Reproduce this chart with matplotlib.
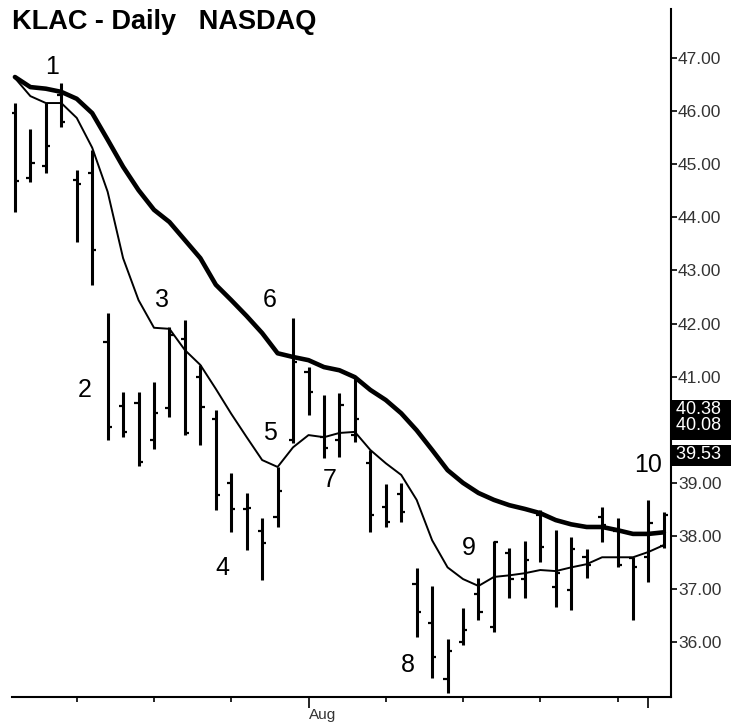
import matplotlib
matplotlib.use("Agg")
import matplotlib.pyplot as plt
from matplotlib.patches import Rectangle
import numpy as np

# ---- data ----
opens = [45.96, 44.74, 44.97, 46.30, 44.70, 44.83, 41.65, 40.45, 40.50, 39.81,
         40.41, 41.70, 41.00, 40.20, 39.00, 38.50, 38.10, 38.36, 39.81, 41.09,
         39.86, 39.81, 39.90, 39.37, 38.54, 38.80, 37.10, 36.36, 35.30, 36.00,
         36.90, 36.28, 37.68, 37.20, 38.40, 37.04, 36.98, 37.60, 38.36, 38.10,
         37.58, 37.60, 37.82]
highs = [46.15, 45.66, 46.15, 46.53, 44.89, 45.27, 42.20, 40.71, 40.71, 40.90,
         41.93, 42.07, 41.22, 40.37, 39.18, 38.81, 38.34, 39.30, 42.10, 41.18,
         40.65, 40.69, 40.97, 39.62, 38.98, 39.00, 37.40, 37.06, 36.06, 36.64,
         37.21, 37.90, 37.77, 37.90, 38.49, 38.11, 37.98, 37.75, 38.54, 38.34,
         37.60, 38.68, 38.45]
lows = [44.10, 44.66, 44.83, 45.70, 43.53, 42.73, 39.81, 39.86, 39.32, 39.64,
        40.24, 39.90, 39.71, 38.49, 38.07, 37.73, 37.17, 38.17, 39.75, 40.28,
        39.47, 39.49, 39.77, 38.07, 38.17, 38.26, 36.10, 35.32, 35.04, 35.95,
        36.42, 36.19, 36.83, 36.83, 37.51, 36.66, 36.60, 37.21, 37.88, 37.41,
        36.42, 37.13, 37.77]
closes = [44.68, 45.02, 45.34, 45.79, 44.63, 43.38, 40.05, 39.96, 39.39, 40.31,
          41.78, 39.94, 40.43, 38.77, 38.51, 38.53, 37.87, 38.85, 41.27, 40.71,
          39.66, 40.47, 40.20, 38.39, 38.26, 38.45, 36.57, 35.72, 35.83, 36.23,
          36.57, 37.88, 37.20, 37.55, 37.79, 37.30, 37.75, 37.45, 38.21, 37.45,
          37.41, 38.24, 38.40]
ma_fast = [46.62, 46.28, 46.15, 46.15, 45.87, 45.31, 44.48, 43.23, 42.44, 41.92,
           41.90, 41.50, 41.22, 40.77, 40.30, 39.86, 39.43, 39.30, 39.67, 39.90,
           39.86, 39.94, 39.96, 39.62, 39.37, 39.15, 38.68, 37.92, 37.41, 37.19,
           37.06, 37.23, 37.26, 37.30, 37.36, 37.34, 37.41, 37.47, 37.60, 37.60,
           37.60, 37.70, 37.83]
ma_slow = [46.64, 46.45, 46.42, 46.36, 46.23, 45.96, 45.46, 44.95, 44.51, 44.14,
           43.91, 43.57, 43.23, 42.73, 42.44, 42.14, 41.82, 41.44, 41.37, 41.31,
           41.18, 41.12, 40.99, 40.75, 40.56, 40.31, 39.99, 39.62, 39.24, 39.00,
           38.81, 38.68, 38.58, 38.51, 38.43, 38.30, 38.22, 38.17, 38.17, 38.11,
           38.04, 38.04, 38.07]

wave_labels = ["1", "2", "3", "4", "5", "6", "7", "8", "9", "10"]
price_tags = [40.38, 40.08, 39.53]
ytick_vals = [36, 37, 38, 39, 41, 42, 43, 44, 45, 46, 47]
week_ticks = [4, 9, 14, 24, 29, 34, 39]
month_ticks = [19, 41]
month_names = ["Aug", ""]

# label positions (bar index, price)
wave_pos = [(2.4, 46.83), (4.5, 40.75), (9.5, 42.44), (13.4, 37.40), (16.5, 39.94),
            (16.5, 42.44), (20.4, 39.05), (25.4, 35.57), (29.4, 37.77), (41.0, 39.34)]

W, H = 731, 724
fig = plt.figure(figsize=(W / 100, H / 100), dpi=100)
fig.patch.set_facecolor("white")
L, R, T, B = 12, 671, 9, 697
ax = fig.add_axes([L / W, 1 - B / H, (R - L) / W, (B - T) / H])
ax.set_facecolor("white")

n = len(closes)
x = np.arange(n)
tick_len = 0.27

ax.vlines(x, lows, highs, color="black", lw=2.2, zorder=3)
ax.hlines(opens, x - tick_len, x, color="black", lw=1.6, zorder=3)
ax.hlines(closes, x, x + tick_len, color="black", lw=1.6, zorder=3)

ax.plot(x, ma_slow, color="black", lw=3.3, solid_capstyle="round",
        solid_joinstyle="round", zorder=4)
ax.plot(x, ma_fast, color="black", lw=1.4, solid_joinstyle="round", zorder=4)

ax.set_xlim(-0.19, 42.46)
ax.set_ylim(34.97, 47.92)

for s in ["left", "top"]:
    ax.spines[s].set_visible(False)
for s in ["right", "bottom"]:
    ax.spines[s].set_linewidth(1.5)
    ax.spines[s].set_color("black")

ax.yaxis.tick_right()
ax.set_yticks(ytick_vals)
ax.set_yticklabels([f"{v:.2f}" for v in ytick_vals])
ax.tick_params(axis="y", direction="out", length=4, width=1.2, pad=1,
               labelsize=12.5, colors="black")
for lab in ax.get_yticklabels():
    lab.set_fontfamily("Liberation Sans")
    lab.set_color("#333333")

ax.set_xticks(week_ticks)
ax.set_xticklabels([])
ax.tick_params(axis="x", which="major", direction="out", length=3.5, width=1.2)
ax.set_xticks(month_ticks, minor=True)
ax.set_xticklabels(month_names, minor=True)
ax.tick_params(axis="x", which="minor", direction="out", length=8, width=1.2,
               labelsize=11, labelcolor="#333333", pad=0)
for lab in ax.get_xticklabels(minor=True):
    lab.set_horizontalalignment("left")
    lab.set_fontfamily("Liberation Sans")

for lab, (px, py) in zip(wave_labels, wave_pos):
    ax.text(px, py, lab, fontsize=18, fontfamily="Liberation Sans",
            ha="center", va="center", color="black", zorder=5)

# price tags on the right axis (black boxes reaching the figure edge)
trans = ax.get_yaxis_transform()
for (y0, hgt) in [(440, 40), (466, 21)]:
    ax.add_patch(Rectangle((672 / W, 1 - y0 / H), (W - 672) / W, hgt / H,
                           transform=fig.transFigure, fc="black", ec="none",
                           clip_on=False, zorder=6))
for v in price_tags:
    ax.text(1.0, v, f" {v:.2f}", transform=trans, ha="left", va="center",
            fontsize=13, fontfamily="Liberation Sans", color="white",
            clip_on=False, zorder=7)

fig.text(12 / W, 1 - 22 / H, "KLAC - Daily   NASDAQ", fontsize=19.5,
         fontweight="bold", fontfamily="Liberation Sans", ha="left", va="center")

fig.savefig("out.png", dpi=100, facecolor="white")
